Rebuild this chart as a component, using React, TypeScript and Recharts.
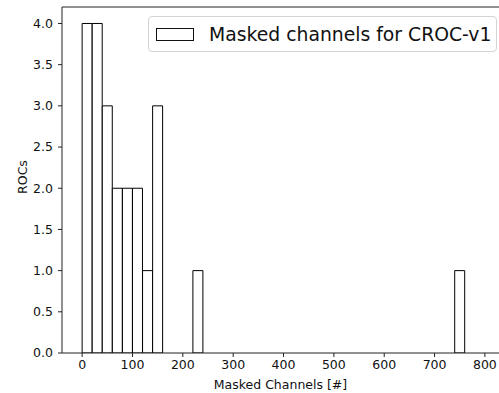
import React from 'react';
import { BarChart, Bar, XAxis, YAxis, ReferenceLine, Legend, Label } from 'recharts';

// histogram of masked channels per ROC, 20-channel bins
const binWidth = 20;
const binStarts = [0, 20, 40, 60, 80, 100, 120, 140, 220, 740];
const rocCounts = [4, 4, 3, 2, 2, 2, 1, 3, 1, 1];
const xTicks = [0, 100, 200, 300, 400, 500, 600, 700, 800];
const yTicks = [0, 0.5, 1, 1.5, 2, 2.5, 3, 3.5, 4];
const seriesName = 'Masked channels for CROC-v1';

const data = binStarts.map((start, i) => ({ center: start + binWidth / 2, rocs: rocCounts[i] }));

const font = '"DejaVu Sans", sans-serif';
const ink = '#111';
const spine = '#222';
const axisFontSize = 12.5;

const renderLegend = () => (
  <div
    style={{
      width: 347,
      height: 34,
      border: '1px solid #d4d4d4',
      borderRadius: 4,
      background: 'rgba(255,255,255,0.8)',
      display: 'flex',
      alignItems: 'center',
      fontFamily: font,
      fontSize: 18.8,
      color: ink,
      whiteSpace: 'nowrap',
    }}
  >
    <span
      style={{
        display: 'inline-block',
        width: 36,
        height: 11,
        border: '1px solid #111',
        background: '#fff',
        marginLeft: 7,
        marginRight: 15,
      }}
    />
    {seriesName}
  </div>
);

const renderYLabel = (props: any) => {
  const vb = props.viewBox;
  const cx = vb.x + 22;
  const cy = vb.y + vb.height / 2 - 3;
  return (
    <text
      x={cx}
      y={cy}
      transform={`rotate(-90, ${cx}, ${cy})`}
      textAnchor="middle"
      dominantBaseline="central"
      fontFamily={font}
      fontSize={axisFontSize}
      fill={ink}
    >
      ROCs
    </text>
  );
};

const App = () => {
  return (
    <div style={{ width: 499, height: 393, overflow: 'hidden', background: '#fff' }}>
      <style>{`body { margin: 0; }`}</style>
      <BarChart
        width={499}
        height={393}
        data={data}
        margin={{ top: 7, right: 0, bottom: 0, left: 0 }}
        barCategoryGap={0}
        barGap={0}
      >
        <XAxis
          dataKey="center"
          type="number"
          domain={[-40, 828]}
          ticks={xTicks}
          allowDataOverflow
          height={40}
          tickSize={4}
          tickMargin={3}
          tick={{ fontSize: axisFontSize, fill: ink, fontFamily: font }}
          tickLine={{ stroke: spine }}
          axisLine={{ stroke: spine }}
        >
          <Label
            value="Masked Channels [#]"
            position="insideBottom"
            offset={4}
            style={{ fontSize: axisFontSize, fill: ink, fontFamily: font }}
          />
        </XAxis>
        <YAxis
          type="number"
          domain={[0, 4.2]}
          ticks={yTicks}
          allowDataOverflow
          width={62}
          tickSize={4}
          tickMargin={5}
          tickFormatter={(v: number) => v.toFixed(1)}
          tick={{ fontSize: axisFontSize, fill: ink, fontFamily: font }}
          tickLine={{ stroke: spine }}
          axisLine={{ stroke: spine }}
        >
          <Label content={renderYLabel} />
        </YAxis>
        <ReferenceLine y={4.2} stroke={spine} />
        <Legend
          layout="vertical"
          align="center"
          verticalAlign="middle"
          content={renderLegend}
          wrapperStyle={{ left: 148, top: 16, width: 'auto' }}
        />
        <Bar
          dataKey="rocs"
          name={seriesName}
          fill="#fff"
          stroke="#000"
          strokeWidth={1}
          isAnimationActive={false}
        />
      </BarChart>
    </div>
  );
};

export default App;
